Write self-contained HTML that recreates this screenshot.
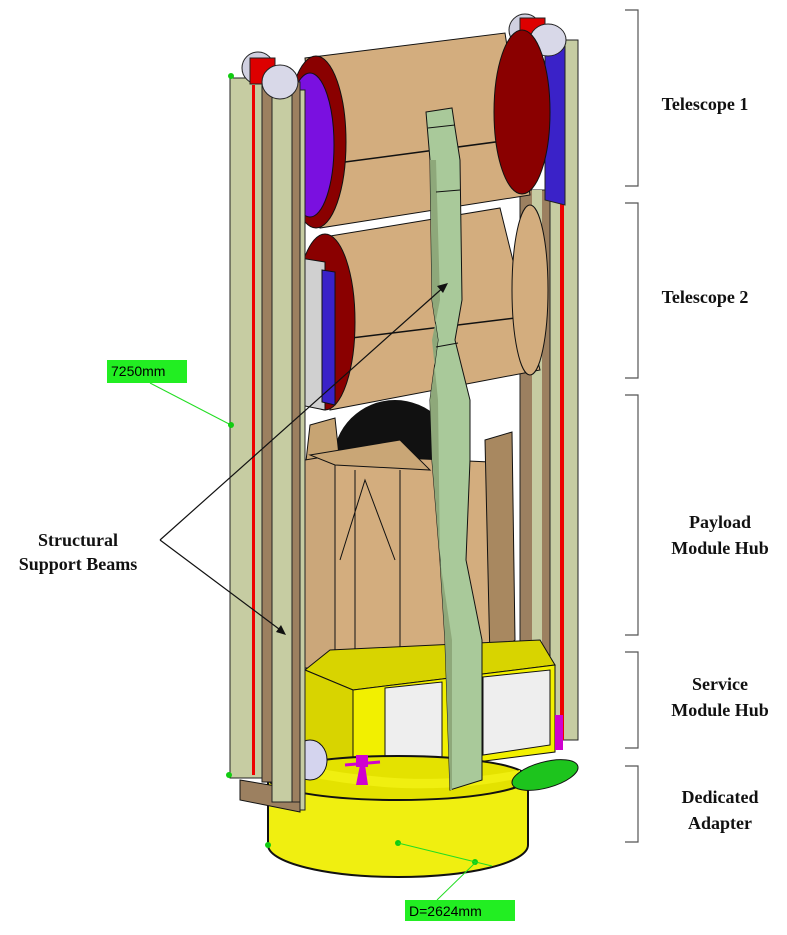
<!DOCTYPE html>
<html><head><meta charset="utf-8"><style>
html,body{margin:0;padding:0;background:#fff;}
svg{display:block;}
text{font-family:"Liberation Serif",serif;font-weight:bold;font-size:18px;fill:#111;}
.g{font-family:"Liberation Sans",sans-serif;font-weight:normal;font-size:14px;fill:#000;}
</style></head><body>
<svg width="787" height="935" viewBox="0 0 787 935" xmlns="http://www.w3.org/2000/svg">
<rect width="787" height="935" fill="#fff"/>
<!-- right beams (back) -->
<rect x="548" y="40" width="30" height="700" fill="#c6cca2" stroke="#222"/>
<rect x="560" y="40" width="4" height="700" fill="#e00"/>
<rect x="520" y="190" width="30" height="550" fill="#9c8060" stroke="#222"/>
<rect x="532" y="190" width="10" height="550" fill="#c6cca2"/>
<polygon points="545,25 565,35 565,205 545,200" fill="#3a22c8" stroke="#222"/>
<!-- right roller -->
<ellipse cx="525" cy="30" rx="16" ry="16" fill="#d0d0e0" stroke="#222"/>
<rect x="520" y="18" width="25" height="30" fill="#d00" stroke="#222"/>
<ellipse cx="548" cy="40" rx="18" ry="16" fill="#d8d8e8" stroke="#222"/>
<!-- telescope 1 -->
<polygon points="305,58 505,33 530,195 320,228" fill="#d3ad7e" stroke="#111"/>
<line x1="345" y1="162" x2="548" y2="135" stroke="#111" stroke-width="1.5"/>
<ellipse cx="522" cy="112" rx="28" ry="82" fill="#8a0000" stroke="#111"/>
<ellipse cx="316" cy="142" rx="30" ry="86" fill="#8a0000" stroke="#111"/>
<ellipse cx="310" cy="145" rx="24" ry="72" fill="#7a10e0" stroke="#111"/>
<!-- telescope 2 -->
<polygon points="318,238 500,208 540,370 330,410" fill="#d3ad7e" stroke="#111"/>
<line x1="335" y1="340" x2="540" y2="315" stroke="#111" stroke-width="1.5"/>
<ellipse cx="530" cy="290" rx="18" ry="85" fill="#d3ad7e" stroke="#111"/>
<ellipse cx="325" cy="322" rx="30" ry="88" fill="#8a0000" stroke="#111"/>
<polygon points="300,258 325,262 325,410 300,405" fill="#d0d0d0" stroke="#111"/>
<polygon points="322,270 335,272 335,405 322,402" fill="#3a22c8" stroke="#111"/>
<!-- dome -->
<circle cx="395" cy="462" r="62" fill="#111"/>
<!-- payload box -->
<polygon points="310,425 335,418 340,465 305,470" fill="#c7a473" stroke="#111"/>
<polygon points="305,460 335,455 335,668 305,668" fill="#cba77a" stroke="#111"/>
<polygon points="335,455 490,462 490,668 335,668" fill="#d3ad7e" stroke="#111"/>
<polygon points="310,455 400,440 430,470 335,465" fill="#c9a676" stroke="#111"/>
<polygon points="485,440 512,432 515,640 490,660" fill="#a88860" stroke="#111"/>
<line x1="400" y1="470" x2="400" y2="668" stroke="#111"/>
<line x1="355" y1="470" x2="355" y2="668" stroke="#111"/>
<polyline points="340,560 365,480 395,560" fill="none" stroke="#111"/>
<!-- service module -->
<polygon points="305,670 330,650 540,640 555,665 353,690" fill="#d8d400" stroke="#111"/>
<polygon points="305,670 353,690 353,775 305,755" fill="#d8d400" stroke="#111"/>
<polygon points="353,690 555,665 555,752 353,778" fill="#f2f000" stroke="#111"/>
<polygon points="385,688 442,682 442,764 385,770" fill="#eee" stroke="#111"/>
<polygon points="483,677 550,670 550,745 483,755" fill="#eee" stroke="#111"/>
<!-- adapter -->
<path d="M268,778 L268,845 A130,32 0 0 0 528,845 L528,778 Z" fill="#f0ef10" stroke="#111" stroke-width="2"/>
<ellipse cx="398" cy="778" rx="130" ry="22" fill="#e4e200" stroke="#111" stroke-width="2"/>
<path d="M300,765 Q420,790 520,770 L520,778 Q420,800 300,775 Z" fill="#f0ef10"/>
<!-- thrusters/antenna -->
<rect x="356" y="755" width="12" height="12" fill="#d000d0"/>
<polygon points="360,765 365,765 368,785 356,785" fill="#d000d0"/>
<line x1="345" y1="765" x2="380" y2="762" stroke="#d000d0" stroke-width="3"/>
<ellipse cx="545" cy="775" rx="34" ry="13" fill="#1dc41d" stroke="#111" transform="rotate(-15 545 775)"/>
<rect x="555" y="715" width="8" height="35" fill="#d000d0"/>
<ellipse cx="310" cy="760" rx="17" ry="20" fill="#d4d4ee" stroke="#111"/>
<!-- center beam -->
<polygon points="426,112 452,108 455,128 460,160 462,300 455,340 470,400 470,460 466,560 482,640 482,780 450,790 445,640 440,560 432,460 430,400 438,340 432,300 430,160" fill="#a9c99a" stroke="#111"/>
<polygon points="430,160 436,160 440,300 432,340 438,400 440,560 452,640 452,790 450,790 445,640 440,560 432,460 430,400 438,340 432,300" fill="#8ea87a"/>
<line x1="428" y1="128" x2="455" y2="125" stroke="#111"/>
<line x1="436" y1="192" x2="460" y2="190" stroke="#111"/>
<line x1="436" y1="347" x2="458" y2="343" stroke="#111"/>
<!-- left beams -->
<polygon points="240,780 300,790 300,812 240,800" fill="#9c8060" stroke="#111"/>
<rect x="230" y="78" width="32" height="700" fill="#c6cca2" stroke="#222"/>
<rect x="252" y="85" width="3" height="690" fill="#e00"/>
<rect x="262" y="82" width="10" height="700" fill="#9c8060" stroke="#222"/>
<rect x="272" y="82" width="20" height="720" fill="#c6cca2" stroke="#222"/>
<rect x="292" y="82" width="8" height="720" fill="#9c8060" stroke="#222"/>
<rect x="300" y="90" width="5" height="720" fill="#c6cca2" stroke="#222"/>
<!-- left roller -->
<ellipse cx="258" cy="68" rx="16" ry="16" fill="#d0d0e0" stroke="#222"/>
<rect x="250" y="58" width="25" height="26" fill="#d00" stroke="#222"/>
<ellipse cx="280" cy="82" rx="18" ry="17" fill="#d8d8e8" stroke="#222"/>
<!-- annotation arrows -->
<line x1="160" y1="540" x2="283" y2="632" stroke="#111" stroke-width="1.2"/>
<polygon points="286,635 276,632 281,625" fill="#111"/>
<line x1="160" y1="540" x2="446" y2="285" stroke="#111" stroke-width="1.2"/>
<polygon points="448,283 443,293 437,286" fill="#111"/>
<!-- green dims -->
<line x1="150" y1="383" x2="231" y2="425" stroke="#2d2" stroke-width="1"/>
<circle cx="231" cy="76" r="3" fill="#1c1"/>
<circle cx="231" cy="425" r="3" fill="#1c1"/>
<circle cx="229" cy="775" r="3" fill="#1c1"/>
<circle cx="268" cy="845" r="3" fill="#1c1"/>
<circle cx="398" cy="843" r="3" fill="#1c1"/>
<circle cx="475" cy="862" r="3" fill="#1c1"/>
<line x1="398" y1="843" x2="492" y2="866" stroke="#2d2"/>
<line x1="476" y1="862" x2="437" y2="900" stroke="#2d2"/>
<rect x="107" y="360" width="80" height="23" fill="#22ee22"/>
<text x="111" y="376" class="g">7250mm</text>
<rect x="405" y="900" width="110" height="21" fill="#22ee22"/>
<text x="409" y="916" class="g">D=2624mm</text>
<!-- labels -->
<text x="78" y="546" text-anchor="middle">Structural</text>
<text x="78" y="570" text-anchor="middle">Support Beams</text>
<g stroke="#555" stroke-width="1.2" fill="none">
<polyline points="625,10 638,10 638,186 625,186"/>
<polyline points="625,203 638,203 638,378 625,378"/>
<polyline points="625,395 638,395 638,635 625,635"/>
<polyline points="625,652 638,652 638,748 625,748"/>
<polyline points="625,766 638,766 638,842 625,842"/>
</g>
<text x="705" y="110" text-anchor="middle">Telescope 1</text>
<text x="705" y="303" text-anchor="middle">Telescope 2</text>
<text x="720" y="528" text-anchor="middle">Payload</text>
<text x="720" y="554" text-anchor="middle">Module Hub</text>
<text x="720" y="690" text-anchor="middle">Service</text>
<text x="720" y="716" text-anchor="middle">Module Hub</text>
<text x="720" y="803" text-anchor="middle">Dedicated</text>
<text x="720" y="829" text-anchor="middle">Adapter</text>
</svg>
</body></html>
